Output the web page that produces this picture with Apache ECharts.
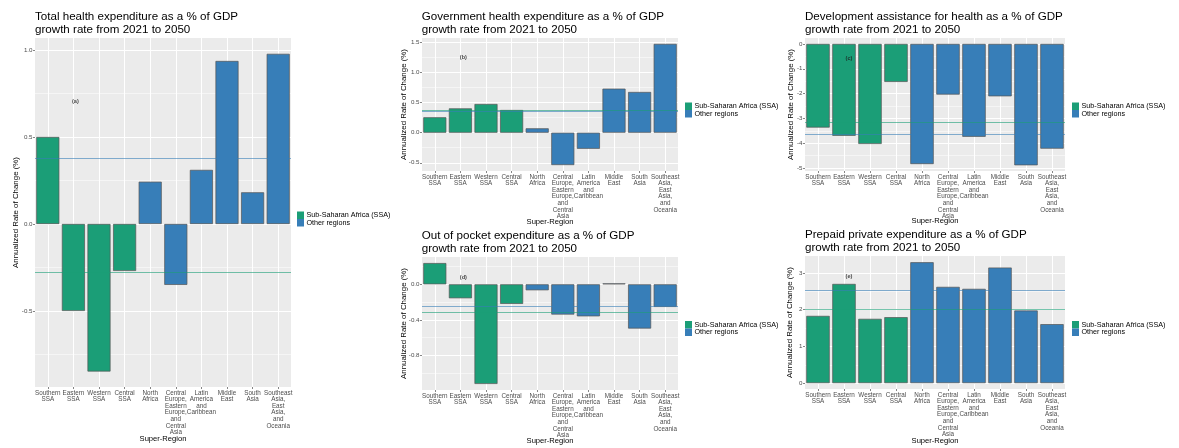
<!DOCTYPE html>
<html>
<head>
<meta charset="utf-8">
<script src="https://cdn.jsdelivr.net/npm/echarts@6/dist/echarts.min.js"></script>
<style>
  html, body { margin: 0; padding: 0; background: #ffffff; }
  #chart { width: 1179px; height: 448px; }
</style>
</head>
<body>
<div id="chart"></div>
<script>
// Super-regions, in plotting order
const regions = [
  'Southern SSA', 'Eastern SSA', 'Western SSA', 'Central SSA', 'North Africa',
  'Central Europe, Eastern Europe, and Central Asia', 'Latin America and Caribbean',
  'Middle East', 'South Asia', 'Southeast Asia, East Asia, and Oceania'
];
const regionLabels = [
  'Southern\nSSA', 'Eastern\nSSA', 'Western\nSSA', 'Central\nSSA', 'North\nAfrica',
  'Central\nEurope,\nEastern\nEurope,\nand\nCentral\nAsia', 'Latin\nAmerica\nand\nCaribbean',
  'Middle\nEast', 'South\nAsia', 'Southeast\nAsia,\nEast\nAsia,\nand\nOceania'
];
const inSSA = [true, true, true, true, false, false, false, false, false, false];

// Annualized rate of change (%), 2021-2050
const totalHealthExp   = [0.50, -0.50, -0.848, -0.27, 0.243, -0.35, 0.311, 0.937, 0.182, 0.978];
const governmentExp    = [0.257, 0.405, 0.478, 0.378, 0.073, -0.538, -0.267, 0.733, 0.678, 1.478];
const devAssistance    = [-3.37, -3.70, -4.03, -1.53, -4.84, -2.04, -3.74, -2.11, -4.89, -4.22];
const outOfPocketExp   = [0.239, -0.157, -1.12, -0.22, -0.067, -0.34, -0.36, 0.01, -0.497, -0.254];
const prepaidPrivate   = [1.83, 2.70, 1.75, 1.795, 3.29, 2.62, 2.566, 3.146, 1.976, 1.605];

// y tick labels per panel
const ticksTotal   = [-0.5, 0.0, 0.5, 1.0];
const ticksGov     = [-0.5, 0.0, 0.5, 1.0, 1.5];
const ticksDah     = [-5, -4, -3, -2, -1, 0];
const ticksOop     = [-0.8, -0.4, 0.0];
const ticksPrepaid = [0, 1, 2, 3];

const SSA_NAME = 'Sub-Saharan Africa (SSA)';
const OTHER_NAME = 'Other regions';
const SSA_COLOR = '#1B9E77';
const OTHER_COLOR = '#377EB8';
const FONT = '"Liberation Sans", Arial, Helvetica, sans-serif';

// layout of the five panels
const panels = [
  { title: 'Total health expenditure as a % of GDP\ngrowth rate from 2021 to 2050',
    values: totalHealthExp, ticks: ticksTotal, dec: 1, min: -0.937, max: 1.069,
    grid: { left: 35, top: 38, width: 256, height: 351 }, titlePos: { left: 35, top: 10.4 },
    legendPos: { left: 297, top: 211.5 }, yGap: 15, xGap: 48, tag: '(a)', tagAt: [1, 0.703], tagShift: 2 },
  { title: 'Government health expenditure as a % of GDP\ngrowth rate from 2021 to 2050',
    values: governmentExp, ticks: ticksGov, dec: 1, min: -0.637, max: 1.576,
    grid: { left: 422, top: 38, width: 256, height: 133 }, titlePos: { left: 421.7, top: 10.4 },
    legendPos: { left: 685, top: 102.5 }, yGap: 14.4, xGap: 47, tag: '(b)', tagAt: [1, 1.245], tagShift: 3 },
  { title: 'Development assistance for health as a % of GDP\ngrowth rate from 2021 to 2050',
    values: devAssistance, ticks: ticksDah, dec: 0, min: -5.12, max: 0.24,
    grid: { left: 805, top: 38, width: 260, height: 133 }, titlePos: { left: 805, top: 10.4 },
    legendPos: { left: 1072, top: 102.5 }, yGap: 10.4, xGap: 46.3, tag: '(c)', tagAt: [1, -0.58], tagShift: 5 },
  { title: 'Out of pocket expenditure as a % of GDP\ngrowth rate from 2021 to 2050',
    values: outOfPocketExp, ticks: ticksOop, dec: 1, min: -1.188, max: 0.307,
    grid: { left: 422, top: 257, width: 256, height: 133 }, titlePos: { left: 421.7, top: 229.4 },
    legendPos: { left: 685, top: 321 }, yGap: 14.4, xGap: 47, tag: '(d)', tagAt: [1, 0.082], tagShift: 3 },
  { title: 'Prepaid private expenditure as a % of GDP\ngrowth rate from 2021 to 2050',
    values: prepaidPrivate, ticks: ticksPrepaid, dec: 0, min: -0.16, max: 3.46,
    grid: { left: 805, top: 256, width: 260, height: 133 }, titlePos: { left: 805, top: 228.8 },
    legendPos: { left: 1072, top: 321 }, yGap: 10.7, xGap: 48, tag: '(e)', tagAt: [1, 2.91], tagShift: 5 }
];

function groupMean(values, ssa) {
  const sel = values.filter((v, i) => inSSA[i] === ssa);
  return sel.reduce((s, v) => s + v, 0) / sel.length;
}

// minor grid values halfway between major ticks (and just beyond, when inside the range)
function minorValues(ticks, min, max) {
  const step = ticks[1] - ticks[0];
  const out = [];
  for (let i = -1; i < ticks.length; i++) {
    const v = (i < 0 ? ticks[0] - step : ticks[i]) + step / 2;
    if (v > min && v < max) out.push(v);
  }
  return out;
}

const option = {
  animation: false,
  backgroundColor: '#ffffff',
  textStyle: { fontFamily: FONT },
  title: [], legend: [], grid: [], xAxis: [], yAxis: [], series: []
};

panels.forEach((p, i) => {
  option.title.push({
    text: p.title, left: p.titlePos.left, top: p.titlePos.top, padding: 0,
    textStyle: { fontSize: 11.6, lineHeight: 12.6, fontWeight: 'normal', color: '#000000', fontFamily: FONT }
  });
  option.legend.push({
    left: p.legendPos.left, top: p.legendPos.top, orient: 'vertical', padding: 0,
    itemWidth: 7, itemHeight: 7.5, itemGap: 0, icon: 'rect', selectedMode: false,
    itemStyle: { borderWidth: 0 },
    textStyle: { fontSize: 7.2, lineHeight: 7.5, color: '#000000', fontFamily: FONT, padding: [0, 0, 0, -2.5] },
    data: [SSA_NAME, OTHER_NAME]
  });
  option.grid.push(Object.assign({ show: true, backgroundColor: '#EBEBEB', borderWidth: 0 }, p.grid));
  option.xAxis.push({
    gridIndex: i, type: 'category', data: regionLabels,
    axisLine: { show: false, onZero: false },
    axisTick: { show: true, alignWithLabel: true, length: 2, lineStyle: { color: '#333333', width: 0.6 } },
    axisLabel: { interval: 0, fontSize: 6.3, lineHeight: 6.6, color: '#4D4D4D', margin: 2.5, fontFamily: FONT },
    splitLine: { show: false },
    name: 'Super-Region', nameLocation: 'middle', nameGap: p.xGap, nameMoveOverlap: false,
    nameTextStyle: { fontSize: 7.6, color: '#000000', fontFamily: FONT }
  });
  option.yAxis.push({
    gridIndex: i, type: 'value', min: p.min, max: p.max,
    axisLine: { show: false },
    axisTick: { show: true, length: 2, lineStyle: { color: '#333333', width: 0.6 }, customValues: p.ticks },
    axisLabel: {
      customValues: p.ticks, fontSize: 6.2, color: '#4D4D4D', margin: 2.5, fontFamily: FONT,
      formatter: v => (Math.abs(v) < 1e-9 ? 0 : v).toFixed(p.dec)
    },
    splitLine: { show: false },
    name: 'Annualized Rate of Change (%)', nameLocation: 'middle', nameGap: p.yGap, nameRotate: 90,
    nameMoveOverlap: false,
    nameTextStyle: { fontSize: 7.9, color: '#000000', fontFamily: FONT }
  });

  // panel background grid lines
  const major = { color: '#ffffff', width: 1, type: 'solid' };
  const minor = { color: '#ffffff', width: 0.5, type: 'solid' };
  const gridLines = [];
  regions.forEach((r, k) => gridLines.push({ xAxis: k, lineStyle: major }));
  p.ticks.forEach(v => gridLines.push({ yAxis: v, lineStyle: major }));
  minorValues(p.ticks, p.min, p.max).forEach(v => gridLines.push({ yAxis: v, lineStyle: minor }));
  option.series.push({
    type: 'line', name: 'grid' + i, xAxisIndex: i, yAxisIndex: i, data: [], silent: true,
    markLine: { z: 1, silent: true, symbol: 'none', animation: false, label: { show: false },
      lineStyle: { type: 'solid' }, emphasis: { disabled: true }, data: gridLines }
  });

  const stackId = 'panel' + i;
  [[true, SSA_NAME, SSA_COLOR], [false, OTHER_NAME, OTHER_COLOR]].forEach(([ssa, name, color]) => {
    option.series.push({
      type: 'bar', name, xAxisIndex: i, yAxisIndex: i, stack: stackId, z: 2,
      barCategoryGap: '10%',
      data: p.values.map((v, k) => (inSSA[k] === ssa ? v : null)),
      itemStyle: { color, borderColor: '#555555', borderWidth: 0.7 },
      emphasis: { disabled: true },
      markLine: {
        z: 5, silent: true, symbol: 'none', animation: false, label: { show: false },
        emphasis: { disabled: true },
        data: [{ yAxis: groupMean(p.values, ssa), lineStyle: { color, opacity: 0.6, width: 1, type: 'solid' } }]
      }
    });
  });

  // panel tag
  option.series.push({
    type: 'scatter', name: 'tag' + i, xAxisIndex: i, yAxisIndex: i, symbolSize: 0, silent: true, z: 6,
    data: [p.tagAt],
    label: { show: true, position: 'inside', formatter: p.tag, fontSize: 5.6, fontWeight: 'bold',
      color: '#1a1a1a', offset: [p.tagShift, 0], fontFamily: FONT }
  });
});

const chart = echarts.init(document.getElementById('chart'), null, { renderer: 'canvas' });
chart.setOption(option);
</script>
</body>
</html>
